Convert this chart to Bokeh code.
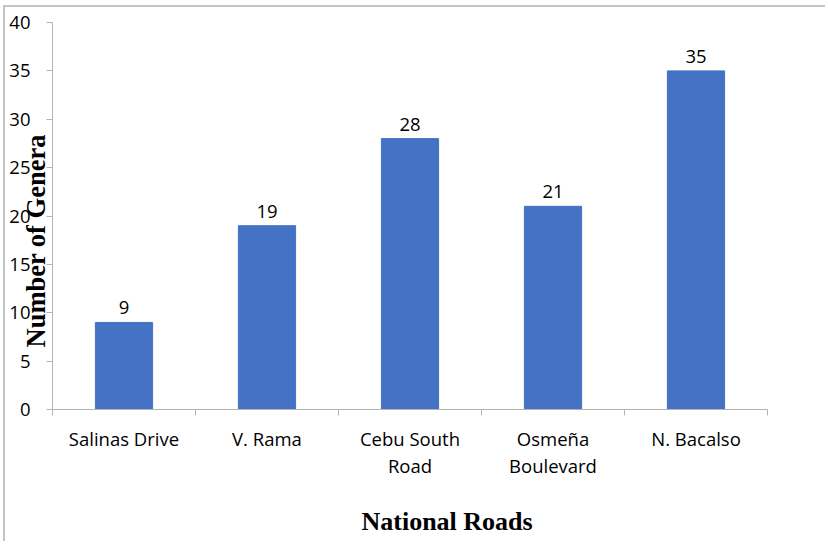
from bokeh.plotting import figure
from bokeh.models import (ColumnDataSource, Range1d, LinearAxis, FixedTicker, LabelSet, Title)
from bokeh.core.properties import value
from bokeh.embed import file_html
from bokeh.resources import INLINE

# Genera counted along each national road
roads = ["Salinas Drive", "V. Rama", "Cebu South Road", "Osmeña Boulevard", "N. Bacalso"]
road_labels = ["Salinas Drive", "V. Rama", "Cebu South\nRoad", "Osmeña\nBoulevard", "N. Bacalso"]
genera = [9, 19, 28, 21, 35]
y_ticks = [0, 5, 10, 15, 20, 25, 30, 35, 40]

SANS = "Open Sans"
SERIF = "Liberation Serif"
AXIS_GREY = "#b4b4b4"

# each road occupies one unit slot; bars sit in the middle of their slot
slot_centres = [i + 0.5 for i in range(len(roads))]
slot_edges = list(range(len(roads) + 1))
src = ColumnDataSource(dict(x=slot_centres, n=genera, lab=[str(v) for v in genera]))

p = figure(
    x_range=Range1d(0, len(roads)),
    y_range=Range1d(0, 40),
    width=822, height=536,
    x_axis_location=None, y_axis_location=None,
    output_backend="svg", toolbar_location=None,
    min_border_left=47, min_border_right=60, min_border_top=15, min_border_bottom=134,
)
p.styles = {"margin-left": "3px", "margin-top": "5px",
            "border-left": "2px solid #c4c4c4", "border-top": "2px solid #c4c4c4"}
p.outline_line_color = None
p.xgrid.visible = False
p.ygrid.visible = False
p.background_fill_color = "white"
p.border_fill_color = "white"

p.vbar(x="x", top="n", width=0.4, source=src, color="#4472C4")

# value labels above the bars
p.add_layout(LabelSet(x="x", y="n", text="lab", source=src, y_offset=8,
                      text_align="center", text_baseline="alphabetic",
                      text_font=value(SANS), text_font_size="18.5px", text_color="black"))

# y axis: line and tick marks only
tick_axis = LinearAxis(ticker=FixedTicker(ticks=[], minor_ticks=y_ticks),
                       major_tick_line_color=None,
                       minor_tick_in=0, minor_tick_out=6, minor_tick_line_color=AXIS_GREY,
                       axis_line_color=AXIS_GREY, major_label_standoff=0)
p.add_layout(tick_axis, "left")

# y axis title, sitting between the tick marks and the numbers
p.add_layout(Title(text="Number of Genera", align="left", offset=62, standoff=-8,
                   text_font=SERIF, text_font_size="26.5px", text_font_style="bold",
                   text_color="black"), "left")

# y axis: numbers
num_axis = LinearAxis(ticker=FixedTicker(ticks=y_ticks),
                      major_tick_line_color=None, minor_tick_line_color=None,
                      axis_line_color=None,
                      major_label_text_font=SANS, major_label_text_font_size="18.5px",
                      major_label_text_color="black", major_label_standoff=-14)
p.add_layout(num_axis, "left")

# x axis: road names under the bars, tick marks on slot boundaries
name_axis = LinearAxis(ticker=FixedTicker(ticks=slot_centres, minor_ticks=slot_edges),
                       major_tick_line_color=None,
                       minor_tick_in=0, minor_tick_out=6, minor_tick_line_color=AXIS_GREY,
                       axis_line_color=AXIS_GREY,
                       major_label_text_font=SANS, major_label_text_font_size="18.5px",
                       major_label_text_color="black", major_label_standoff=10,
                       major_label_text_line_height=1.08,
                       major_label_overrides=dict(zip(slot_centres, road_labels)))
p.add_layout(name_axis, "below")

# blank band between the road names and the axis title
gap_axis = LinearAxis(ticker=FixedTicker(ticks=[slot_centres[2]]), axis_line_color=None,
                      major_tick_in=0, major_tick_out=18, major_tick_line_color="white",
                      minor_tick_in=0, minor_tick_out=0, minor_tick_line_color=None,
                      major_label_standoff=0, major_label_text_font_size="1px",
                      major_label_text_color="white",
                      major_label_overrides={slot_centres[2]: ""})
p.add_layout(gap_axis, "below")

# x axis title
p.add_layout(Title(text="National Roads", align="left", offset=309, standoff=12,
                   text_font=SERIF, text_font_size="26px", text_font_style="bold",
                   text_color="black"), "below")

open("out.html", "w").write(file_html(p, INLINE))
